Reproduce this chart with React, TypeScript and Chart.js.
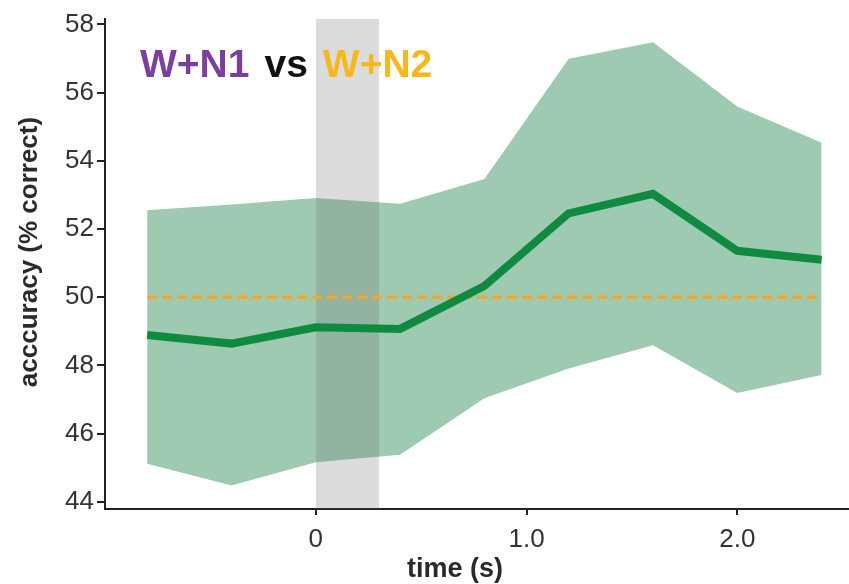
import React, { useEffect, useRef } from "react";
import { Chart, registerables } from "chart.js";

Chart.register(...registerables);

// ---- data ----
const times = [-0.8, -0.4, 0, 0.4, 0.8, 1.2, 1.6, 2.0, 2.4];
const meanAcc = [48.89, 48.64, 49.12, 49.07, 50.33, 52.46, 53.03, 51.36, 51.1];
const upperAcc = [52.55, 52.72, 52.91, 52.74, 53.47, 56.99, 57.48, 55.59, 54.53];
const lowerAcc = [45.12, 44.48, 45.16, 45.38, 47.04, 47.91, 48.59, 47.19, 47.72];
const chanceLevel = 50;
const stimulusWindow = [0, 0.3];
const yTicks = [44, 46, 48, 50, 52, 54, 56, 58];
const xTicks = [0, 1, 2];
const xTickLabels = ["0", "1.0", "2.0"];
const titleParts = [
  { text: "W+N1", color: "#7b3f9f" },
  { text: "vs", color: "#111111" },
  { text: "W+N2", color: "#f6b81d" },
];
const yAxisTitle = "acccuracy (% correct)";
const xAxisTitle = "time (s)";

const X_MIN = -1.0;
const X_MAX = 2.53;
const Y_MIN = 43.79;
const Y_MAX = 58.17;

const FONT = "'Liberation Sans', Arial, sans-serif";

const textPlugin = {
  id: "customText",
  afterDatasetsDraw(chart: any) {
    const ctx = chart.ctx;
    ctx.save();
    ctx.font = `bold 39px ${FONT}`;
    ctx.textBaseline = "alphabetic";
    ctx.textAlign = "left";
    let x = 140;
    const gap = 15;
    titleParts.forEach((p) => {
      ctx.fillStyle = p.color;
      ctx.fillText(p.text, x, 77);
      x += ctx.measureText(p.text).width + gap;
    });
    ctx.restore();
  },
  afterDraw(chart: any) {
    const ctx = chart.ctx;
    ctx.save();
    ctx.fillStyle = "#2a2a2a";
    ctx.textAlign = "center";
    ctx.textBaseline = "middle";
    ctx.font = `bold 27px ${FONT}`;
    ctx.fillText(xAxisTitle, 455, 570);
    ctx.translate(30, 252);
    ctx.rotate(-Math.PI / 2);
    ctx.font = `bold 26px ${FONT}`;
    ctx.fillText(yAxisTitle, 0, 0);
    ctx.restore();
  },
};

export default function App() {
  const ref = useRef<HTMLCanvasElement | null>(null);

  useEffect(() => {
    document.body.style.margin = "0";
    const canvas = ref.current;
    if (!canvas) return;
    const pts = (ys: number[]) => times.map((t, i) => ({ x: t, y: ys[i] }));
    const chart = new Chart(canvas, {
      type: "line",
      data: {
        datasets: [
          {
            data: pts(upperAcc),
            borderWidth: 0,
            pointRadius: 0,
            fill: "+1",
            backgroundColor: "#9fcab2",
            borderColor: "rgba(0,0,0,0)",
            order: 5,
          },
          {
            data: pts(lowerAcc),
            borderWidth: 0,
            pointRadius: 0,
            fill: false,
            borderColor: "rgba(0,0,0,0)",
            order: 4,
          },
          {
            data: stimulusWindow.map((t) => ({ x: t, y: Y_MAX })),
            borderWidth: 0,
            pointRadius: 0,
            fill: "start",
            backgroundColor: "rgba(110,110,110,0.24)",
            borderColor: "rgba(0,0,0,0)",
            order: 3,
          },
          {
            data: [
              { x: times[0], y: chanceLevel },
              { x: times[times.length - 1], y: chanceLevel },
            ],
            borderWidth: 3.5,
            borderDash: [10, 5],
            borderColor: "#f2a630",
            pointRadius: 0,
            fill: false,
            order: 2,
          },
          {
            data: pts(meanAcc),
            borderWidth: 8,
            borderColor: "#0f8a40",
            borderJoinStyle: "miter",
            borderCapStyle: "butt",
            pointRadius: 0,
            fill: false,
            tension: 0,
            order: 1,
          },
        ],
      },
      options: {
        responsive: false,
        maintainAspectRatio: false,
        animation: false,
        layout: { autoPadding: false, padding: { top: 13, right: 0, left: 0, bottom: 0 } },
        plugins: {
          legend: { display: false },
          tooltip: { enabled: false },
          title: { display: false },
        },
        scales: {
          x: {
            type: "linear",
            min: X_MIN,
            max: X_MAX,
            afterFit: (s: any) => {
              s.height = 75;
            },
            afterBuildTicks: (s: any) => {
              s.ticks = xTicks.map((v) => ({ value: v }));
            },
            ticks: {
              callback: (v: any) => {
                const i = xTicks.indexOf(Number(v));
                return i >= 0 ? xTickLabels[i] : "";
              },
              font: { family: FONT, size: 26 },
              color: "#333333",
              padding: 9,
              maxRotation: 0,
              autoSkip: false,
            },
            grid: {
              display: true,
              drawOnChartArea: false,
              drawTicks: true,
              tickLength: 6,
              color: "#222",
              lineWidth: 2,
            },
            border: { display: true, color: "#222", width: 2 },
          },
          y: {
            type: "linear",
            min: Y_MIN,
            max: Y_MAX,
            afterFit: (s: any) => {
              s.width = 105;
            },
            afterBuildTicks: (s: any) => {
              s.ticks = yTicks.map((v) => ({ value: v }));
            },
            ticks: {
              callback: (v: any) => String(v),
              font: { family: FONT, size: 26 },
              color: "#333333",
              padding: 3,
              autoSkip: false,
            },
            grid: {
              display: true,
              drawOnChartArea: false,
              drawTicks: true,
              tickLength: 8,
              color: "#222",
              lineWidth: 2,
            },
            border: { display: true, color: "#222", width: 2 },
          },
        },
      },
      plugins: [textPlugin],
    } as any);
    return () => chart.destroy();
  }, []);

  return (
    <div style={{ position: "absolute", left: 0, top: 0, width: 849, height: 584 }}>
      <canvas ref={ref} width={849} height={584} style={{ width: 849, height: 584, display: "block" }} />
    </div>
  );
}
